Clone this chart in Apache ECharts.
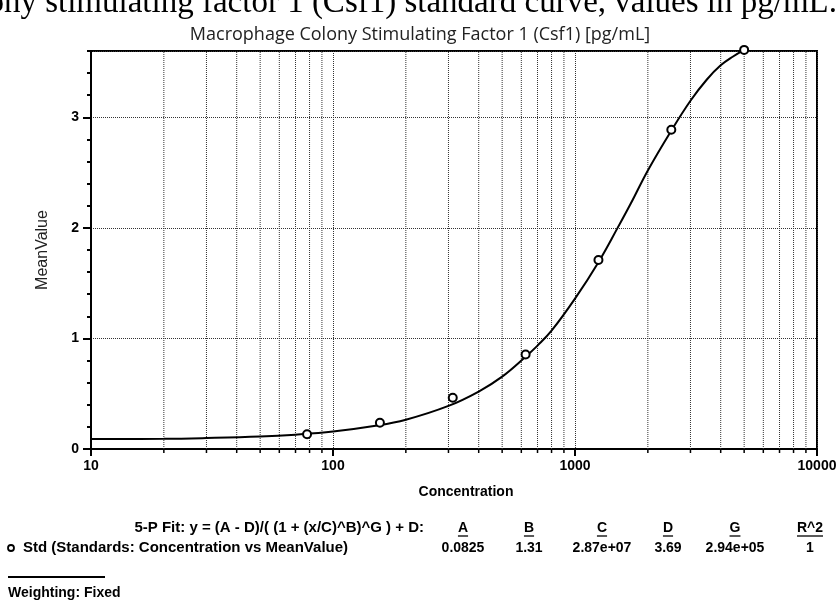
<!DOCTYPE html>
<html>
<head>
<meta charset="utf-8">
<script src="https://cdn.jsdelivr.net/npm/echarts@6/dist/echarts.min.js"></script>
<style>
  html, body { margin: 0; padding: 0; background: #fff; }
  #chart { width: 840px; height: 603px; }
</style>
</head>
<body>
<div id="chart"></div>
<script>
// standards (2-fold dilution series)
const concentration = [78.125, 156.25, 312.5, 625, 1250, 2500, 5000];
const meanValue = [0.133, 0.238, 0.463, 0.855, 1.71, 2.888, 3.61];

// fitted 5-P curve
const curveX = [10, 20, 30, 50, 70, 100, 150, 200, 300, 400, 500, 625, 700, 800, 1000, 1250, 1500, 1700, 2000, 2500, 3000, 3500, 4000, 4500, 5000];
const curveY = [0.09, 0.092, 0.099, 0.113, 0.13, 0.158, 0.21, 0.265, 0.39, 0.52, 0.655, 0.835, 0.935, 1.07, 1.36, 1.69, 2.0, 2.22, 2.52, 2.88, 3.15, 3.34, 3.47, 3.55, 3.61];

// log minor grid positions
const minorX = [20, 30, 40, 50, 60, 70, 80, 90, 200, 300, 400, 500, 600, 700, 800, 900, 2000, 3000, 4000, 5000, 6000, 7000, 8000, 9000];

const fitHeaders = ['A', 'B', 'C', 'D', 'G', 'R^2'];
const fitValues = ['0.0825', '1.31', '2.87e+07', '3.69', '2.94e+05', '1'];

const Y_MAX = 3.6;
const boldFont = '"Liberation Sans", Arial, sans-serif';
const tableFont = 'bold 14px ' + boldFont;
const labelFont = 'bold 15px ' + boldFont;
const dotted = { color: '#333', width: 1, type: [1, 1] };

const chart = echarts.init(document.getElementById('chart'));

const colX = [463, 529, 602, 668, 735, 810];
const tableGraphics = [];
fitHeaders.forEach((h, i) => {
  tableGraphics.push({
    type: 'text', x: colX[i], y: 528,
    style: { text: h, font: tableFont, fill: '#000', align: 'center', verticalAlign: 'middle' }
  });
});
// underline the headers
const ctx = document.createElement('canvas').getContext('2d');
ctx.font = tableFont;
fitHeaders.forEach((h, i) => {
  const w = ctx.measureText(h).width;
  tableGraphics.push({
    type: 'line', shape: { x1: colX[i] - w / 2, y1: 536, x2: colX[i] + w / 2, y2: 536 },
    style: { stroke: '#000', lineWidth: 1.3 }
  });
});
fitValues.forEach((v, i) => {
  tableGraphics.push({
    type: 'text', x: colX[i], y: 548,
    style: { text: v, font: tableFont, fill: '#000', align: 'center', verticalAlign: 'middle' }
  });
});

const option = {
  animation: false,
  title: {
    text: 'Macrophage Colony Stimulating Factor 1 (Csf1) [pg/mL]',
    left: 'center', top: 21,
    textStyle: { fontFamily: '"Open Sans", sans-serif', fontWeight: 'normal', fontSize: 18, color: '#222' }
  },
  grid: {
    left: 91, right: 23, top: 51, bottom: 154,
    show: true, borderColor: '#000', borderWidth: 2, backgroundColor: 'transparent'
  },
  xAxis: {
    type: 'log', logBase: 10, min: 10, max: 10000,
    axisLine: { lineStyle: { color: '#000', width: 2 } },
    axisTick: { length: 7, lineStyle: { color: '#000', width: 2 } },
    axisLabel: {
      color: '#000', fontFamily: boldFont, fontWeight: 'bold', fontSize: 14, margin: 10,
      formatter: v => String(Math.round(v))
    },
    splitLine: { show: true, lineStyle: dotted }
  },
  yAxis: [
    {
      type: 'value', min: 0, max: Y_MAX, interval: 0.2,
      axisLine: { show: true, lineStyle: { color: '#000', width: 2 } },
      axisTick: { length: 4, lineStyle: { color: '#000', width: 2 } },
      axisLabel: { show: false },
      splitLine: { show: false }
    },
    {
      type: 'value', min: 0, max: Y_MAX, interval: 1, position: 'left',
      name: 'MeanValue', nameLocation: 'middle', nameGap: 40,
      nameTextStyle: { fontFamily: boldFont, fontSize: 16, color: '#222' },
      axisLine: { show: false },
      axisTick: { length: 8, lineStyle: { color: '#000', width: 2 } },
      axisLabel: {
        color: '#000', fontFamily: boldFont, fontWeight: 'bold', fontSize: 14, margin: 12,
        showMaxLabel: false,
        formatter: v => (Number.isInteger(v) ? String(v) : '')
      },
      splitLine: { show: true, lineStyle: dotted }
    }
  ],
  series: [
    {
      // minor log gridlines + short ticks under the axis
      type: 'custom', yAxisIndex: 0, z: 1, silent: true, clip: false,
      data: minorX.map(v => [v, 0]),
      renderItem: function (params, api) {
        const p0 = api.coord([api.value(0), 0]);
        const p1 = api.coord([api.value(0), Y_MAX]);
        return {
          type: 'group',
          children: [
            { type: 'line', shape: { x1: p0[0], y1: p0[1], x2: p0[0], y2: p1[1] }, style: { stroke: '#333', lineWidth: 1, lineDash: [1, 1] } },
            { type: 'line', shape: { x1: p0[0], y1: p0[1], x2: p0[0], y2: p0[1] + 4 }, style: { stroke: '#000', lineWidth: 1.5 } }
          ]
        };
      }
    },
    {
      name: 'Fit', type: 'line', yAxisIndex: 0, z: 3, clip: false,
      data: curveX.map((x, i) => [x, curveY[i]]),
      showSymbol: false, smooth: 0.4,
      lineStyle: { color: '#000', width: 2 }
    },
    {
      name: 'Std', type: 'scatter', yAxisIndex: 0, z: 5, clip: false,
      data: concentration.map((x, i) => [x, meanValue[i]]),
      symbol: 'circle', symbolSize: 8,
      itemStyle: { color: '#fff', borderColor: '#000', borderWidth: 2, opacity: 1 }
    }
  ],
  graphic: [
    {
      type: 'text', right: 3, top: -13,
      style: { text: 'Macrophage colony stimulating factor 1 (Csf1) standard curve, values in pg/mL.', font: '33px "Liberation Serif", "Times New Roman", serif', fill: '#000' }
    },
    {
      type: 'text', x: 466, y: 492,
      style: { text: 'Concentration', font: tableFont, fill: '#000', align: 'center', verticalAlign: 'middle' }
    },
    {
      type: 'text', x: 424, y: 528,
      style: { text: '5-P Fit: y = (A - D)/( (1 + (x/C)^B)^G ) + D:', font: labelFont, fill: '#000', align: 'right', verticalAlign: 'middle' }
    },
    {
      type: 'circle', shape: { cx: 11, cy: 548, r: 3 },
      style: { fill: '#fff', stroke: '#000', lineWidth: 1.8 }
    },
    {
      type: 'text', x: 23, y: 548,
      style: { text: 'Std (Standards: Concentration vs MeanValue)', font: labelFont, fill: '#000', verticalAlign: 'middle' }
    },
    {
      type: 'line', shape: { x1: 8, y1: 577, x2: 105, y2: 577 },
      style: { stroke: '#000', lineWidth: 2 }
    },
    {
      type: 'text', x: 8, y: 593,
      style: { text: 'Weighting: Fixed', font: tableFont, fill: '#000', verticalAlign: 'middle' }
    }
  ].concat(tableGraphics)
};

chart.setOption(option);
</script>
</body>
</html>
